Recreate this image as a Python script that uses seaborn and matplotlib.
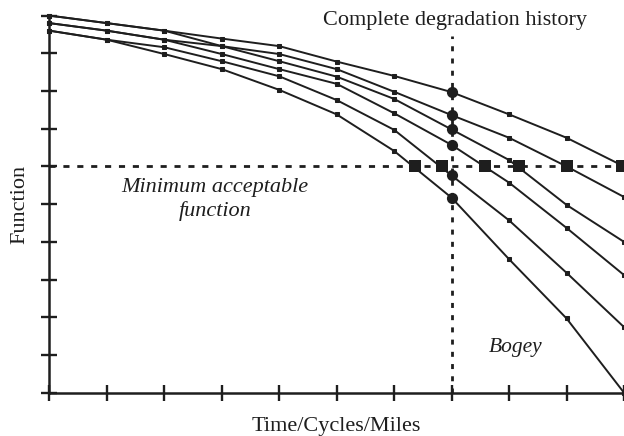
import matplotlib
matplotlib.use("Agg")
import matplotlib.pyplot as plt
import pandas as pd
import seaborn as sns

# time steps along the x axis
time = [0, 1, 2, 3, 4, 5, 6, 7, 8, 9, 10]

# degradation curves (function level)
curve_1 = [10.0, 9.80, 9.60, 9.39, 9.19, 8.78, 8.40, 7.97, 7.38, 6.76, 6.00]
curve_2 = [10.0, 9.80, 9.60, 9.19, 8.98, 8.58, 7.98, 7.36, 6.76, 6.00, 5.19]
curve_3 = [9.80, 9.60, 9.36, 9.19, 8.79, 8.38, 7.79, 6.98, 6.17, 4.98, 4.00]
curve_4 = [9.80, 9.60, 9.36, 8.98, 8.58, 8.19, 7.41, 6.57, 5.57, 4.37, 3.12]
curve_5 = [9.60, 9.36, 9.16, 8.79, 8.39, 7.76, 6.97, 5.76, 4.57, 3.18, 1.74]
curve_6 = [9.60, 9.36, 8.98, 8.58, 8.03, 7.38, 6.41, 5.17, 3.54, 1.97, 0.00]
curves = [curve_1, curve_2, curve_3, curve_4, curve_5, curve_6]

min_function = 6.0
bogey = 7
# times where each curve crosses the minimum acceptable function
failure_times = [9.96, 9.00, 8.17, 7.59, 6.83, 6.37]

rows = []
for i, c in enumerate(curves):
    for t, f in zip(time, c):
        rows.append({"curve": f"c{i+1}", "time": t, "function": f})
df = pd.DataFrame(rows)

bogey_df = df[df["time"] == bogey]
fail_df = pd.DataFrame({"time": failure_times, "function": [min_function] * len(failure_times)})

sns.set_style("white")
plt.rcParams["font.family"] = ["Liberation Serif", "DejaVu Serif"]

fig = plt.figure(figsize=(6.24, 4.36), dpi=100)
ax = fig.add_axes([0.079, 0.0993, 0.921, 0.865])

ink = "#1e1e1e"

# threshold and bogey reference lines
ax.plot([0, 10], [min_function, min_function], color=ink, lw=2.0,
        linestyle=(0, (2.2, 2.8)), zorder=1)
ax.plot([bogey, bogey], [0, 9.45], color=ink, lw=2.0,
        linestyle=(0, (1.8, 2.6)), zorder=1)

sns.lineplot(data=df, x="time", y="function", hue="curve", palette=[ink] * 6,
             estimator=None, marker="s", markersize=3.5, markeredgecolor=ink,
             linewidth=1.4, legend=False, ax=ax, zorder=3, clip_on=False)

sns.scatterplot(data=bogey_df, x="time", y="function", color=ink, marker="o",
                s=65, edgecolor=ink, linewidth=0, ax=ax, zorder=4)
sns.scatterplot(data=fail_df, x="time", y="function", color=ink, marker="s",
                s=85, edgecolor=ink, linewidth=0, ax=ax, zorder=4)

ax.set_xlim(0, 10)
ax.set_ylim(0, 10)
ax.set_xticks(time)
ax.set_yticks(range(0, 11))
ax.set_xticklabels([])
ax.set_yticklabels([])
ax.tick_params(bottom=True, left=True, direction="inout", length=11.5,
               width=1.7, color=ink)
for side in ["top", "right"]:
    ax.spines[side].set_visible(False)
for side in ["left", "bottom"]:
    ax.spines[side].set_linewidth(1.8)
    ax.spines[side].set_color(ink)

ax.set_xlabel("Time/Cycles/Miles", fontsize=16, color=ink, labelpad=8)
ax.set_ylabel("Function", fontsize=16, color=ink, labelpad=5)

ax.text(7.06, 9.86, "Complete degradation history", fontsize=16, color=ink,
        ha="center", va="center")
ax.text(2.88, 5.13, "Minimum acceptable\nfunction", fontsize=16, color=ink,
        ha="center", va="center", style="italic", linespacing=1.25)
ax.text(8.12, 1.21, "Bogey", fontsize=15.5, color=ink, ha="center", va="center",
        style="italic")

fig.savefig("out.png", dpi=100)
